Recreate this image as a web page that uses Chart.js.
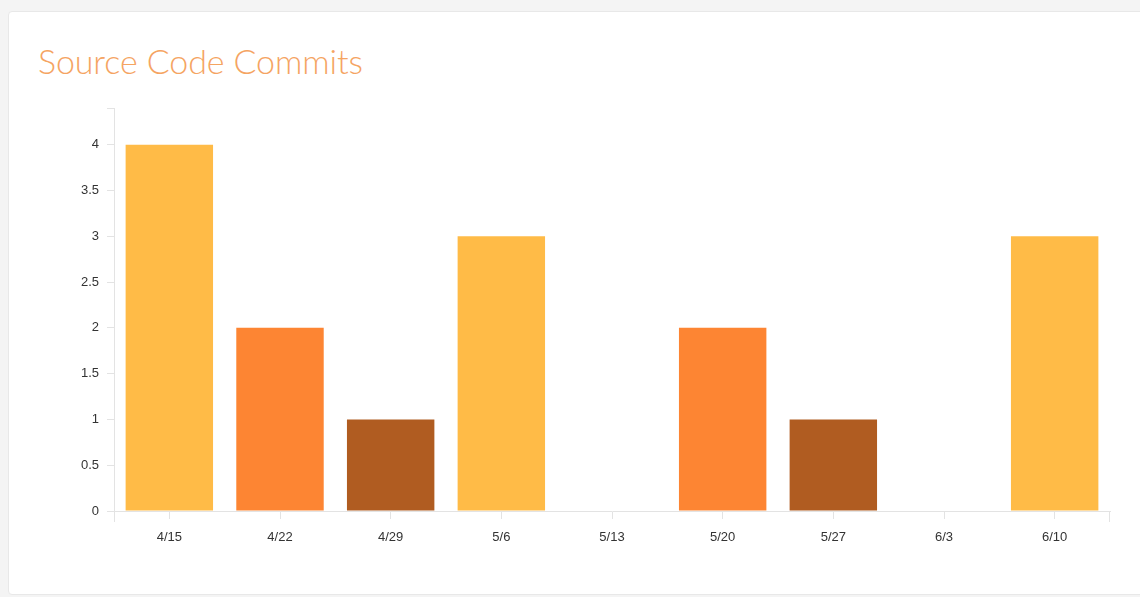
<!DOCTYPE html>
<html>
<head>
<meta charset="utf-8">
<script src="https://cdn.jsdelivr.net/npm/chart.js@4"></script>
<style>
  html, body { margin: 0; padding: 0; background: #f4f4f4; width: 1140px; height: 597px; overflow: hidden; }
  .card {
    position: absolute; left: 8px; top: 11px; width: 1140px; height: 584px;
    background: #fff; border: 1px solid #e8e8e8; border-radius: 4px; box-sizing: border-box;
  }
  .title {
    position: absolute; left: 38px; top: 40px; margin: 0;
    font-family: Lato, "Open Sans", sans-serif; font-weight: 300; font-size: 34px;
    color: #f5a462; letter-spacing: -0.1px; white-space: nowrap;
  }
  .wrap { position: absolute; left: 0; top: 90px; width: 1140px; height: 470px; }
</style>
</head>
<body>
<div class="card"></div>
<h1 class="title">Source Code Commits</h1>
<div class="wrap"><canvas id="commitsChart"></canvas></div>
<script>
  const weeks = ['4/15', '4/22', '4/29', '5/6', '5/13', '5/20', '5/27', '6/3', '6/10'];
  const commits = [4, 2, 1, 3, 0, 2, 1, 0, 3];
  const barColors = ['#ffbb47', '#fd8533', '#b05c21', '#ffbb47', '#fd8533', '#fd8533', '#b05c21', '#fd8533', '#ffbb47'];
  const axisMax = 4.4;

  const axisColor = '#e3e3e3';
  const labelFont = { family: 'Arial, "Liberation Sans", sans-serif', size: 13 };

  // nvd3-style outer ticks at the ends of both axes
  const outerTicks = {
    id: 'outerTicks',
    afterDraw(chart) {
      const { ctx, scales: { x, y } } = chart;
      ctx.save();
      ctx.strokeStyle = axisColor;
      ctx.lineWidth = 1;
      ctx.beginPath();
      // y axis stub below x axis
      ctx.moveTo(x.left + 0.5, y.bottom);
      ctx.lineTo(x.left + 0.5, y.bottom + 11);
      // right end of x axis
      ctx.moveTo(x.right - 0.5, y.bottom);
      ctx.lineTo(x.right - 0.5, y.bottom + 11);
      ctx.stroke();
      ctx.restore();
    }
  };

  new Chart(document.getElementById('commitsChart').getContext('2d'), {
    type: 'bar',
    data: {
      labels: weeks,
      datasets: [{
        label: 'Commits',
        data: commits,
        backgroundColor: barColors,
        borderWidth: 0,
        barPercentage: 0.79,
        categoryPercentage: 1
      }]
    },
    options: {
      responsive: true,
      maintainAspectRatio: false,
      animation: false,
      layout: { padding: { top: 18, right: 30, left: 0, bottom: 0 } },
      plugins: { legend: { display: false }, tooltip: { enabled: false } },
      scales: {
        x: {
          grid: { offset: false, drawOnChartArea: false, drawTicks: true, tickLength: 8, color: axisColor },
          border: { display: true, color: axisColor },
          ticks: { color: '#333', font: labelFont, padding: 11, maxRotation: 0 },
          afterFit: (s) => { s.height = 49; }
        },
        y: {
          min: 0,
          max: axisMax,
          grid: { drawOnChartArea: false, drawTicks: true, tickLength: 7, color: axisColor },
          border: { display: true, color: axisColor },
          ticks: {
            stepSize: 0.5,
            color: '#333',
            font: labelFont,
            padding: 8,
            callback: (v) => (Math.abs(v * 2 - Math.round(v * 2)) < 1e-6 ? String(v) : '')
          },
          afterFit: (s) => { s.width = 114; }
        }
      }
    },
    plugins: [outerTicks]
  });
</script>
</body>
</html>
